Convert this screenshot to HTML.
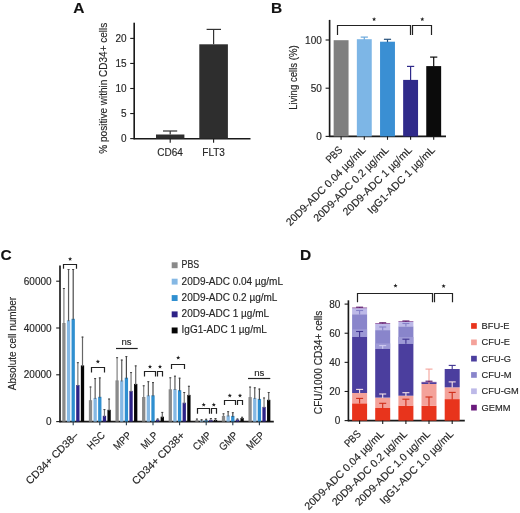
<!DOCTYPE html>
<html><head><meta charset="utf-8"><style>
html,body{margin:0;padding:0;background:#fff;}
svg{display:block;font-family:"Liberation Sans", sans-serif;will-change:transform;}
text{stroke:#262626;stroke-width:0.15px;}
</style></head><body>
<svg width="520" height="513" viewBox="0 0 520 513">
<rect width="520" height="513" fill="#fff"/>
<text x="73.20" y="12.80" font-size="15.5" text-anchor="start" fill="#111" font-weight="bold" >A</text>
<line x1="134.20" y1="22.70" x2="134.20" y2="139.30" stroke="#1a1a1a" stroke-width="1.65"/>
<line x1="133.60" y1="138.70" x2="250.50" y2="138.70" stroke="#1a1a1a" stroke-width="1.65"/>
<line x1="130.20" y1="138.60" x2="134.20" y2="138.60" stroke="#1a1a1a" stroke-width="1.1"/>
<text x="126.50" y="142.20" font-size="10" text-anchor="end" fill="#262626" font-weight="normal" >0</text>
<line x1="130.20" y1="113.55" x2="134.20" y2="113.55" stroke="#1a1a1a" stroke-width="1.1"/>
<text x="126.50" y="117.15" font-size="10" text-anchor="end" fill="#262626" font-weight="normal" >5</text>
<line x1="130.20" y1="88.50" x2="134.20" y2="88.50" stroke="#1a1a1a" stroke-width="1.1"/>
<text x="126.50" y="92.10" font-size="10" text-anchor="end" fill="#262626" font-weight="normal" >10</text>
<line x1="130.20" y1="63.45" x2="134.20" y2="63.45" stroke="#1a1a1a" stroke-width="1.1"/>
<text x="126.50" y="67.05" font-size="10" text-anchor="end" fill="#262626" font-weight="normal" >15</text>
<line x1="130.20" y1="38.40" x2="134.20" y2="38.40" stroke="#1a1a1a" stroke-width="1.1"/>
<text x="126.50" y="42.00" font-size="10" text-anchor="end" fill="#262626" font-weight="normal" >20</text>
<rect x="156.00" y="134.50" width="28.40" height="4.10" fill="#2e2e2e"/>
<rect x="199.30" y="44.30" width="28.60" height="94.30" fill="#2e2e2e"/>
<line x1="170.20" y1="131.00" x2="170.20" y2="134.50" stroke="#333" stroke-width="1.2"/>
<line x1="163.00" y1="131.00" x2="177.20" y2="131.00" stroke="#333" stroke-width="1.2"/>
<line x1="213.60" y1="29.40" x2="213.60" y2="44.30" stroke="#333" stroke-width="1.2"/>
<line x1="206.60" y1="29.40" x2="221.00" y2="29.40" stroke="#333" stroke-width="1.2"/>
<line x1="170.20" y1="138.70" x2="170.20" y2="142.70" stroke="#1a1a1a" stroke-width="1.1"/>
<line x1="213.60" y1="138.70" x2="213.60" y2="142.70" stroke="#1a1a1a" stroke-width="1.1"/>
<text x="170.00" y="155.50" font-size="10" text-anchor="middle" fill="#262626" font-weight="normal" >CD64</text>
<text x="213.60" y="155.50" font-size="10" text-anchor="middle" fill="#262626" font-weight="normal" >FLT3</text>
<text transform="translate(107.00,88.20) rotate(-90)" font-size="10" text-anchor="middle" fill="#262626" >% positive within CD34+ cells</text>
<text x="271.00" y="12.70" font-size="15.5" text-anchor="start" fill="#111" font-weight="bold" >B</text>
<line x1="329.60" y1="19.90" x2="329.60" y2="137.00" stroke="#1a1a1a" stroke-width="1.65"/>
<line x1="329.00" y1="136.40" x2="446.00" y2="136.40" stroke="#1a1a1a" stroke-width="1.65"/>
<line x1="325.60" y1="136.40" x2="329.60" y2="136.40" stroke="#1a1a1a" stroke-width="1.1"/>
<text x="321.80" y="140.00" font-size="10" text-anchor="end" fill="#262626" font-weight="normal" >0</text>
<line x1="325.60" y1="88.20" x2="329.60" y2="88.20" stroke="#1a1a1a" stroke-width="1.1"/>
<text x="321.80" y="91.80" font-size="10" text-anchor="end" fill="#262626" font-weight="normal" >50</text>
<line x1="325.60" y1="40.00" x2="329.60" y2="40.00" stroke="#1a1a1a" stroke-width="1.1"/>
<text x="321.80" y="43.60" font-size="10" text-anchor="end" fill="#262626" font-weight="normal" >100</text>
<rect x="333.65" y="40.20" width="14.90" height="96.20" fill="#7f7f7f"/>
<line x1="341.10" y1="136.40" x2="341.10" y2="139.80" stroke="#1a1a1a" stroke-width="1.1"/>
<rect x="356.85" y="39.20" width="14.90" height="97.20" fill="#7db6e6"/>
<line x1="364.30" y1="37.10" x2="364.30" y2="39.70" stroke="#6aa8dc" stroke-width="1.2"/>
<line x1="360.70" y1="37.10" x2="367.90" y2="37.10" stroke="#6aa8dc" stroke-width="1.2"/>
<line x1="364.30" y1="136.40" x2="364.30" y2="139.80" stroke="#1a1a1a" stroke-width="1.1"/>
<rect x="380.05" y="41.70" width="14.90" height="94.70" fill="#3a8fd3"/>
<line x1="387.50" y1="39.30" x2="387.50" y2="42.20" stroke="#27527c" stroke-width="1.2"/>
<line x1="383.90" y1="39.30" x2="391.10" y2="39.30" stroke="#27527c" stroke-width="1.2"/>
<line x1="387.50" y1="136.40" x2="387.50" y2="139.80" stroke="#1a1a1a" stroke-width="1.1"/>
<rect x="403.15" y="79.90" width="14.90" height="56.50" fill="#2f2a8a"/>
<line x1="410.60" y1="66.40" x2="410.60" y2="80.40" stroke="#2f2a8a" stroke-width="1.2"/>
<line x1="407.00" y1="66.40" x2="414.20" y2="66.40" stroke="#2f2a8a" stroke-width="1.2"/>
<line x1="410.60" y1="136.40" x2="410.60" y2="139.80" stroke="#1a1a1a" stroke-width="1.1"/>
<rect x="426.25" y="66.10" width="14.90" height="70.30" fill="#0b0b0b"/>
<line x1="433.70" y1="57.10" x2="433.70" y2="66.60" stroke="#0b0b0b" stroke-width="1.2"/>
<line x1="430.10" y1="57.10" x2="437.30" y2="57.10" stroke="#0b0b0b" stroke-width="1.2"/>
<line x1="433.70" y1="136.40" x2="433.70" y2="139.80" stroke="#1a1a1a" stroke-width="1.1"/>
<path d="M337.50,35.00V25.50H410.50V35.00" fill="none" stroke="#222" stroke-width="1.2"/>
<path d="M412.50,35.00V25.50H431.50V35.00" fill="none" stroke="#222" stroke-width="1.2"/>
<polygon points="374.10,17.00 374.66,18.43 376.19,18.52 375.00,19.49 375.39,20.98 374.10,20.15 372.81,20.98 373.20,19.49 372.01,18.52 373.54,18.43" fill="#222"/>
<polygon points="422.30,17.10 422.86,18.53 424.39,18.62 423.20,19.59 423.59,21.08 422.30,20.25 421.01,21.08 421.40,19.59 420.21,18.62 421.74,18.53" fill="#222"/>
<text transform="translate(296.80,77.60) rotate(-90)" font-size="10.1" text-anchor="middle" fill="#262626"  textLength="64.40" lengthAdjust="spacingAndGlyphs">Living cells (%)</text>
<text transform="translate(343.10,150.60) rotate(-45)" font-size="10.6" text-anchor="end" fill="#262626"  textLength="18.67" lengthAdjust="spacingAndGlyphs">PBS</text>
<text transform="translate(366.30,150.60) rotate(-45)" font-size="10.6" text-anchor="end" fill="#262626" >20D9-ADC 0.04 µg/mL</text>
<text transform="translate(389.50,150.60) rotate(-45)" font-size="10.6" text-anchor="end" fill="#262626" >20D9-ADC 0.2 µg/mL</text>
<text transform="translate(412.60,150.60) rotate(-45)" font-size="10.6" text-anchor="end" fill="#262626" >20D9-ADC 1 µg/mL</text>
<text transform="translate(435.70,150.60) rotate(-45)" font-size="10.6" text-anchor="end" fill="#262626" >IgG1-ADC 1 µg/mL</text>
<text x="0.60" y="260.00" font-size="15.5" text-anchor="start" fill="#111" font-weight="bold" >C</text>
<line x1="60.00" y1="265.60" x2="60.00" y2="422.20" stroke="#1a1a1a" stroke-width="1.65"/>
<line x1="59.40" y1="421.60" x2="273.80" y2="421.60" stroke="#1a1a1a" stroke-width="1.65"/>
<line x1="56.20" y1="421.60" x2="60.00" y2="421.60" stroke="#1a1a1a" stroke-width="1.1"/>
<text x="51.60" y="425.20" font-size="10" text-anchor="end" fill="#262626" font-weight="normal" >0</text>
<line x1="56.20" y1="374.80" x2="60.00" y2="374.80" stroke="#1a1a1a" stroke-width="1.1"/>
<text x="51.60" y="378.40" font-size="10" text-anchor="end" fill="#262626" font-weight="normal" >20000</text>
<line x1="56.20" y1="328.00" x2="60.00" y2="328.00" stroke="#1a1a1a" stroke-width="1.1"/>
<text x="51.60" y="331.60" font-size="10" text-anchor="end" fill="#262626" font-weight="normal" >40000</text>
<line x1="56.20" y1="281.20" x2="60.00" y2="281.20" stroke="#1a1a1a" stroke-width="1.1"/>
<text x="51.60" y="284.80" font-size="10" text-anchor="end" fill="#262626" font-weight="normal" >60000</text>
<rect x="62.25" y="323.00" width="3.30" height="98.60" fill="#8a8a8a"/>
<line x1="63.90" y1="288.00" x2="63.90" y2="324.00" stroke="#808080" stroke-width="1.2"/>
<line x1="62.90" y1="288.50" x2="64.90" y2="288.50" stroke="#444" stroke-width="1.0"/>
<rect x="66.90" y="320.20" width="3.30" height="101.40" fill="#85b8e4"/>
<line x1="68.55" y1="269.00" x2="68.55" y2="321.20" stroke="#5c5c5c" stroke-width="1.2"/>
<line x1="67.55" y1="269.50" x2="69.55" y2="269.50" stroke="#444" stroke-width="1.0"/>
<rect x="71.55" y="318.80" width="3.30" height="102.80" fill="#2f8fd0"/>
<line x1="73.20" y1="269.00" x2="73.20" y2="319.80" stroke="#4a4a4a" stroke-width="1.2"/>
<line x1="72.20" y1="269.50" x2="74.20" y2="269.50" stroke="#444" stroke-width="1.0"/>
<rect x="76.20" y="385.00" width="3.30" height="36.60" fill="#2d2287"/>
<line x1="77.85" y1="362.20" x2="77.85" y2="386.00" stroke="#777777" stroke-width="1.2"/>
<line x1="76.85" y1="362.70" x2="78.85" y2="362.70" stroke="#444" stroke-width="1.0"/>
<rect x="80.85" y="365.40" width="3.30" height="56.20" fill="#050505"/>
<line x1="82.50" y1="336.60" x2="82.50" y2="366.40" stroke="#666666" stroke-width="1.2"/>
<line x1="81.50" y1="337.10" x2="83.50" y2="337.10" stroke="#444" stroke-width="1.0"/>
<line x1="73.20" y1="421.60" x2="73.20" y2="425.20" stroke="#283d4d" stroke-width="1.1"/>
<rect x="88.85" y="400.20" width="3.30" height="21.40" fill="#8a8a8a"/>
<line x1="90.50" y1="386.50" x2="90.50" y2="401.20" stroke="#808080" stroke-width="1.2"/>
<line x1="89.50" y1="387.00" x2="91.50" y2="387.00" stroke="#444" stroke-width="1.0"/>
<rect x="93.50" y="397.90" width="3.30" height="23.70" fill="#85b8e4"/>
<line x1="95.15" y1="378.10" x2="95.15" y2="398.90" stroke="#5c5c5c" stroke-width="1.2"/>
<line x1="94.15" y1="378.60" x2="96.15" y2="378.60" stroke="#444" stroke-width="1.0"/>
<rect x="98.15" y="396.80" width="3.30" height="24.80" fill="#2f8fd0"/>
<line x1="99.80" y1="377.40" x2="99.80" y2="397.80" stroke="#4a4a4a" stroke-width="1.2"/>
<line x1="98.80" y1="377.90" x2="100.80" y2="377.90" stroke="#444" stroke-width="1.0"/>
<rect x="102.80" y="415.80" width="3.30" height="5.80" fill="#2d2287"/>
<line x1="104.45" y1="409.10" x2="104.45" y2="416.80" stroke="#777777" stroke-width="1.2"/>
<line x1="103.45" y1="409.60" x2="105.45" y2="409.60" stroke="#444" stroke-width="1.0"/>
<rect x="107.45" y="409.80" width="3.30" height="11.80" fill="#050505"/>
<line x1="109.10" y1="398.60" x2="109.10" y2="410.80" stroke="#666666" stroke-width="1.2"/>
<line x1="108.10" y1="399.10" x2="110.10" y2="399.10" stroke="#444" stroke-width="1.0"/>
<line x1="99.80" y1="421.60" x2="99.80" y2="425.20" stroke="#283d4d" stroke-width="1.1"/>
<rect x="115.45" y="380.40" width="3.30" height="41.20" fill="#8a8a8a"/>
<line x1="117.10" y1="357.20" x2="117.10" y2="381.40" stroke="#808080" stroke-width="1.2"/>
<line x1="116.10" y1="357.70" x2="118.10" y2="357.70" stroke="#444" stroke-width="1.0"/>
<rect x="120.10" y="380.40" width="3.30" height="41.20" fill="#85b8e4"/>
<line x1="121.75" y1="359.60" x2="121.75" y2="381.40" stroke="#5c5c5c" stroke-width="1.2"/>
<line x1="120.75" y1="360.10" x2="122.75" y2="360.10" stroke="#444" stroke-width="1.0"/>
<rect x="124.75" y="377.70" width="3.30" height="43.90" fill="#2f8fd0"/>
<line x1="126.40" y1="356.10" x2="126.40" y2="378.70" stroke="#4a4a4a" stroke-width="1.2"/>
<line x1="125.40" y1="356.60" x2="127.40" y2="356.60" stroke="#444" stroke-width="1.0"/>
<rect x="129.40" y="390.90" width="3.30" height="30.70" fill="#2d2287"/>
<line x1="131.05" y1="372.10" x2="131.05" y2="391.90" stroke="#777777" stroke-width="1.2"/>
<line x1="130.05" y1="372.60" x2="132.05" y2="372.60" stroke="#444" stroke-width="1.0"/>
<rect x="134.05" y="383.90" width="3.30" height="37.70" fill="#050505"/>
<line x1="135.70" y1="365.40" x2="135.70" y2="384.90" stroke="#666666" stroke-width="1.2"/>
<line x1="134.70" y1="365.90" x2="136.70" y2="365.90" stroke="#444" stroke-width="1.0"/>
<line x1="126.40" y1="421.60" x2="126.40" y2="425.20" stroke="#283d4d" stroke-width="1.1"/>
<rect x="142.05" y="397.00" width="3.30" height="24.60" fill="#8a8a8a"/>
<line x1="143.70" y1="385.30" x2="143.70" y2="398.00" stroke="#808080" stroke-width="1.2"/>
<line x1="142.70" y1="385.80" x2="144.70" y2="385.80" stroke="#444" stroke-width="1.0"/>
<rect x="146.70" y="395.30" width="3.30" height="26.30" fill="#85b8e4"/>
<line x1="148.35" y1="381.20" x2="148.35" y2="396.30" stroke="#5c5c5c" stroke-width="1.2"/>
<line x1="147.35" y1="381.70" x2="149.35" y2="381.70" stroke="#444" stroke-width="1.0"/>
<rect x="151.35" y="395.30" width="3.30" height="26.30" fill="#2f8fd0"/>
<line x1="153.00" y1="382.10" x2="153.00" y2="396.30" stroke="#4a4a4a" stroke-width="1.2"/>
<line x1="152.00" y1="382.60" x2="154.00" y2="382.60" stroke="#444" stroke-width="1.0"/>
<rect x="156.00" y="419.60" width="3.30" height="2.00" fill="#2d2287"/>
<line x1="157.65" y1="418.50" x2="157.65" y2="420.60" stroke="#777777" stroke-width="1.2"/>
<line x1="156.65" y1="419.00" x2="158.65" y2="419.00" stroke="#444" stroke-width="1.0"/>
<rect x="160.65" y="416.70" width="3.30" height="4.90" fill="#050505"/>
<line x1="162.30" y1="411.90" x2="162.30" y2="417.70" stroke="#666666" stroke-width="1.2"/>
<line x1="161.30" y1="412.40" x2="163.30" y2="412.40" stroke="#444" stroke-width="1.0"/>
<line x1="153.00" y1="421.60" x2="153.00" y2="425.20" stroke="#283d4d" stroke-width="1.1"/>
<rect x="168.65" y="389.30" width="3.30" height="32.30" fill="#8a8a8a"/>
<line x1="170.30" y1="377.30" x2="170.30" y2="390.30" stroke="#808080" stroke-width="1.2"/>
<line x1="169.30" y1="377.80" x2="171.30" y2="377.80" stroke="#444" stroke-width="1.0"/>
<rect x="173.30" y="389.00" width="3.30" height="32.60" fill="#85b8e4"/>
<line x1="174.95" y1="375.70" x2="174.95" y2="390.00" stroke="#5c5c5c" stroke-width="1.2"/>
<line x1="173.95" y1="376.20" x2="175.95" y2="376.20" stroke="#444" stroke-width="1.0"/>
<rect x="177.95" y="390.20" width="3.30" height="31.40" fill="#2f8fd0"/>
<line x1="179.60" y1="377.70" x2="179.60" y2="391.20" stroke="#4a4a4a" stroke-width="1.2"/>
<line x1="178.60" y1="378.20" x2="180.60" y2="378.20" stroke="#444" stroke-width="1.0"/>
<rect x="182.60" y="402.70" width="3.30" height="18.90" fill="#2d2287"/>
<line x1="184.25" y1="392.00" x2="184.25" y2="403.70" stroke="#777777" stroke-width="1.2"/>
<line x1="183.25" y1="392.50" x2="185.25" y2="392.50" stroke="#444" stroke-width="1.0"/>
<rect x="187.25" y="394.90" width="3.30" height="26.70" fill="#050505"/>
<line x1="188.90" y1="385.80" x2="188.90" y2="395.90" stroke="#666666" stroke-width="1.2"/>
<line x1="187.90" y1="386.30" x2="189.90" y2="386.30" stroke="#444" stroke-width="1.0"/>
<line x1="179.60" y1="421.60" x2="179.60" y2="425.20" stroke="#283d4d" stroke-width="1.1"/>
<rect x="195.25" y="420.20" width="3.30" height="1.40" fill="#8a8a8a"/>
<line x1="196.90" y1="418.60" x2="196.90" y2="421.20" stroke="#808080" stroke-width="1.2"/>
<line x1="195.90" y1="419.10" x2="197.90" y2="419.10" stroke="#444" stroke-width="1.0"/>
<rect x="199.90" y="420.40" width="3.30" height="1.20" fill="#85b8e4"/>
<line x1="201.55" y1="419.20" x2="201.55" y2="421.40" stroke="#5c5c5c" stroke-width="1.2"/>
<line x1="200.55" y1="419.70" x2="202.55" y2="419.70" stroke="#444" stroke-width="1.0"/>
<rect x="204.55" y="420.20" width="3.30" height="1.40" fill="#2f8fd0"/>
<line x1="206.20" y1="418.80" x2="206.20" y2="421.20" stroke="#4a4a4a" stroke-width="1.2"/>
<line x1="205.20" y1="419.30" x2="207.20" y2="419.30" stroke="#444" stroke-width="1.0"/>
<rect x="209.20" y="419.80" width="3.30" height="1.80" fill="#2d2287"/>
<line x1="210.85" y1="418.00" x2="210.85" y2="420.80" stroke="#777777" stroke-width="1.2"/>
<line x1="209.85" y1="418.50" x2="211.85" y2="418.50" stroke="#444" stroke-width="1.0"/>
<rect x="213.85" y="419.80" width="3.30" height="1.80" fill="#050505"/>
<line x1="215.50" y1="418.00" x2="215.50" y2="420.80" stroke="#666666" stroke-width="1.2"/>
<line x1="214.50" y1="418.50" x2="216.50" y2="418.50" stroke="#444" stroke-width="1.0"/>
<line x1="206.20" y1="421.60" x2="206.20" y2="425.20" stroke="#283d4d" stroke-width="1.1"/>
<rect x="221.85" y="415.90" width="3.30" height="5.70" fill="#8a8a8a"/>
<line x1="223.50" y1="413.30" x2="223.50" y2="416.90" stroke="#808080" stroke-width="1.2"/>
<line x1="222.50" y1="413.80" x2="224.50" y2="413.80" stroke="#444" stroke-width="1.0"/>
<rect x="226.50" y="415.40" width="3.30" height="6.20" fill="#85b8e4"/>
<line x1="228.15" y1="411.20" x2="228.15" y2="416.40" stroke="#5c5c5c" stroke-width="1.2"/>
<line x1="227.15" y1="411.70" x2="229.15" y2="411.70" stroke="#444" stroke-width="1.0"/>
<rect x="231.15" y="415.90" width="3.30" height="5.70" fill="#2f8fd0"/>
<line x1="232.80" y1="412.20" x2="232.80" y2="416.90" stroke="#4a4a4a" stroke-width="1.2"/>
<line x1="231.80" y1="412.70" x2="233.80" y2="412.70" stroke="#444" stroke-width="1.0"/>
<rect x="235.80" y="419.50" width="3.30" height="2.10" fill="#2d2287"/>
<line x1="237.45" y1="418.50" x2="237.45" y2="420.50" stroke="#777777" stroke-width="1.2"/>
<line x1="236.45" y1="419.00" x2="238.45" y2="419.00" stroke="#444" stroke-width="1.0"/>
<rect x="240.45" y="418.00" width="3.30" height="3.60" fill="#050505"/>
<line x1="242.10" y1="416.80" x2="242.10" y2="419.00" stroke="#666666" stroke-width="1.2"/>
<line x1="241.10" y1="417.30" x2="243.10" y2="417.30" stroke="#444" stroke-width="1.0"/>
<line x1="232.80" y1="421.60" x2="232.80" y2="425.20" stroke="#283d4d" stroke-width="1.1"/>
<rect x="248.45" y="397.10" width="3.30" height="24.50" fill="#8a8a8a"/>
<line x1="250.10" y1="386.60" x2="250.10" y2="398.10" stroke="#808080" stroke-width="1.2"/>
<line x1="249.10" y1="387.10" x2="251.10" y2="387.10" stroke="#444" stroke-width="1.0"/>
<rect x="253.10" y="397.90" width="3.30" height="23.70" fill="#85b8e4"/>
<line x1="254.75" y1="387.30" x2="254.75" y2="398.90" stroke="#5c5c5c" stroke-width="1.2"/>
<line x1="253.75" y1="387.80" x2="255.75" y2="387.80" stroke="#444" stroke-width="1.0"/>
<rect x="257.75" y="398.90" width="3.30" height="22.70" fill="#2f8fd0"/>
<line x1="259.40" y1="388.60" x2="259.40" y2="399.90" stroke="#4a4a4a" stroke-width="1.2"/>
<line x1="258.40" y1="389.10" x2="260.40" y2="389.10" stroke="#444" stroke-width="1.0"/>
<rect x="262.40" y="406.90" width="3.30" height="14.70" fill="#2d2287"/>
<line x1="264.05" y1="397.50" x2="264.05" y2="407.90" stroke="#777777" stroke-width="1.2"/>
<line x1="263.05" y1="398.00" x2="265.05" y2="398.00" stroke="#444" stroke-width="1.0"/>
<rect x="267.05" y="399.80" width="3.30" height="21.80" fill="#050505"/>
<line x1="268.70" y1="392.00" x2="268.70" y2="400.80" stroke="#666666" stroke-width="1.2"/>
<line x1="267.70" y1="392.50" x2="269.70" y2="392.50" stroke="#444" stroke-width="1.0"/>
<line x1="259.40" y1="421.60" x2="259.40" y2="425.20" stroke="#283d4d" stroke-width="1.1"/>
<path d="M63.50,268.80V264.50H76.50V268.80" fill="none" stroke="#222" stroke-width="1.2"/>
<polygon points="70.10,256.80 70.66,258.23 72.19,258.32 71.00,259.29 71.39,260.78 70.10,259.95 68.81,260.78 69.20,259.29 68.01,258.32 69.54,258.23" fill="#222"/>
<path d="M91.50,372.60V367.50H104.50V372.60" fill="none" stroke="#222" stroke-width="1.2"/>
<polygon points="97.90,359.40 98.46,360.83 99.99,360.92 98.80,361.89 99.19,363.38 97.90,362.55 96.61,363.38 97.00,361.89 95.81,360.92 97.34,360.83" fill="#222"/>
<line x1="116.0" y1="348.5" x2="137.7" y2="348.5" stroke="#222" stroke-width="1.2"/>
<text x="126.50" y="345.40" font-size="9.6" text-anchor="middle" fill="#262626" font-weight="normal" >ns</text>
<path d="M144.50,376.60V371.50H155.50V376.60" fill="none" stroke="#222" stroke-width="1.2"/>
<polygon points="150.00,364.60 150.56,366.03 152.09,366.12 150.90,367.09 151.29,368.58 150.00,367.75 148.71,368.58 149.10,367.09 147.91,366.12 149.44,366.03" fill="#222"/>
<path d="M157.50,376.60V371.50H162.50V376.60" fill="none" stroke="#222" stroke-width="1.2"/>
<polygon points="160.00,364.60 160.56,366.03 162.09,366.12 160.90,367.09 161.29,368.58 160.00,367.75 158.71,368.58 159.10,367.09 157.91,366.12 159.44,366.03" fill="#222"/>
<path d="M171.50,369.00V364.50H184.50V369.00" fill="none" stroke="#222" stroke-width="1.2"/>
<polygon points="178.20,355.60 178.76,357.03 180.29,357.12 179.10,358.09 179.49,359.58 178.20,358.75 176.91,359.58 177.30,358.09 176.11,357.12 177.64,357.03" fill="#222"/>
<path d="M197.50,413.80V408.50H209.50V413.80" fill="none" stroke="#222" stroke-width="1.2"/>
<polygon points="203.70,402.60 204.26,404.03 205.79,404.12 204.60,405.09 204.99,406.58 203.70,405.75 202.41,406.58 202.80,405.09 201.61,404.12 203.14,404.03" fill="#222"/>
<path d="M211.50,413.80V408.50H216.50V413.80" fill="none" stroke="#222" stroke-width="1.2"/>
<polygon points="213.80,402.60 214.36,404.03 215.89,404.12 214.70,405.09 215.09,406.58 213.80,405.75 212.51,406.58 212.90,405.09 211.71,404.12 213.24,404.03" fill="#222"/>
<path d="M224.50,405.00V400.50H235.50V405.00" fill="none" stroke="#222" stroke-width="1.2"/>
<polygon points="229.80,393.40 230.36,394.83 231.89,394.92 230.70,395.89 231.09,397.38 229.80,396.55 228.51,397.38 228.90,395.89 227.71,394.92 229.24,394.83" fill="#222"/>
<path d="M237.50,405.00V400.50H242.50V405.00" fill="none" stroke="#222" stroke-width="1.2"/>
<polygon points="240.00,393.40 240.56,394.83 242.09,394.92 240.90,395.89 241.29,397.38 240.00,396.55 238.71,397.38 239.10,395.89 237.91,394.92 239.44,394.83" fill="#222"/>
<line x1="248.0" y1="378.5" x2="270.3" y2="378.5" stroke="#222" stroke-width="1.2"/>
<text x="259.30" y="375.70" font-size="9.6" text-anchor="middle" fill="#262626" font-weight="normal" >ns</text>
<text transform="translate(15.80,343.60) rotate(-90)" font-size="10" text-anchor="middle" fill="#262626" >Absolute cell number</text>
<text transform="translate(79.00,436.00) rotate(-45)" font-size="10.6" text-anchor="end" fill="#262626" >CD34+ CD38–</text>
<text transform="translate(105.60,436.00) rotate(-45)" font-size="10.6" text-anchor="end" fill="#262626"  textLength="20.14" lengthAdjust="spacingAndGlyphs">HSC</text>
<text transform="translate(132.20,436.00) rotate(-45)" font-size="10.6" text-anchor="end" fill="#262626"  textLength="20.67" lengthAdjust="spacingAndGlyphs">MPP</text>
<text transform="translate(158.80,436.00) rotate(-45)" font-size="10.6" text-anchor="end" fill="#262626"  textLength="19.62" lengthAdjust="spacingAndGlyphs">MLP</text>
<text transform="translate(185.40,436.00) rotate(-45)" font-size="10.6" text-anchor="end" fill="#262626" >CD34+ CD38+</text>
<text transform="translate(212.00,436.00) rotate(-45)" font-size="10.6" text-anchor="end" fill="#262626"  textLength="21.20" lengthAdjust="spacingAndGlyphs">CMP</text>
<text transform="translate(238.60,436.00) rotate(-45)" font-size="10.6" text-anchor="end" fill="#262626"  textLength="21.73" lengthAdjust="spacingAndGlyphs">GMP</text>
<text transform="translate(265.20,436.00) rotate(-45)" font-size="10.6" text-anchor="end" fill="#262626"  textLength="20.67" lengthAdjust="spacingAndGlyphs">MEP</text>
<rect x="171.70" y="262.30" width="5.90" height="5.90" fill="#8a8a8a"/>
<text x="181.60" y="268.20" font-size="10" text-anchor="start" fill="#262626" font-weight="normal"  textLength="17.60" lengthAdjust="spacingAndGlyphs">PBS</text>
<rect x="171.70" y="278.70" width="5.90" height="5.90" fill="#85b8e4"/>
<text x="181.60" y="284.60" font-size="10" text-anchor="start" fill="#262626" font-weight="normal" >20D9-ADC 0.04 µg/mL</text>
<rect x="171.70" y="295.10" width="5.90" height="5.90" fill="#2f8fd0"/>
<text x="181.60" y="301.00" font-size="10" text-anchor="start" fill="#262626" font-weight="normal" >20D9-ADC 0.2 µg/mL</text>
<rect x="171.70" y="311.40" width="5.90" height="5.90" fill="#2d2287"/>
<text x="181.60" y="317.30" font-size="10" text-anchor="start" fill="#262626" font-weight="normal" >20D9-ADC 1 µg/mL</text>
<rect x="171.70" y="327.50" width="5.90" height="5.90" fill="#050505"/>
<text x="181.60" y="333.40" font-size="10" text-anchor="start" fill="#262626" font-weight="normal" >IgG1-ADC 1 µg/mL</text>
<text x="300.00" y="260.30" font-size="15.5" text-anchor="start" fill="#111" font-weight="bold" >D</text>
<line x1="348.40" y1="300.30" x2="348.40" y2="421.20" stroke="#1a1a1a" stroke-width="1.65"/>
<line x1="347.80" y1="420.60" x2="464.80" y2="420.60" stroke="#1a1a1a" stroke-width="1.65"/>
<line x1="344.60" y1="420.60" x2="348.40" y2="420.60" stroke="#1a1a1a" stroke-width="1.1"/>
<text x="340.40" y="424.20" font-size="10" text-anchor="end" fill="#262626" font-weight="normal" >0</text>
<line x1="344.60" y1="391.48" x2="348.40" y2="391.48" stroke="#1a1a1a" stroke-width="1.1"/>
<text x="340.40" y="395.08" font-size="10" text-anchor="end" fill="#262626" font-weight="normal" >20</text>
<line x1="344.60" y1="362.35" x2="348.40" y2="362.35" stroke="#1a1a1a" stroke-width="1.1"/>
<text x="340.40" y="365.95" font-size="10" text-anchor="end" fill="#262626" font-weight="normal" >40</text>
<line x1="344.60" y1="333.23" x2="348.40" y2="333.23" stroke="#1a1a1a" stroke-width="1.1"/>
<text x="340.40" y="336.83" font-size="10" text-anchor="end" fill="#262626" font-weight="normal" >60</text>
<line x1="344.60" y1="304.10" x2="348.40" y2="304.10" stroke="#1a1a1a" stroke-width="1.1"/>
<text x="340.40" y="307.70" font-size="10" text-anchor="end" fill="#262626" font-weight="normal" >80</text>
<rect x="352.10" y="403.30" width="15.00" height="17.30" fill="#e8341c"/>
<rect x="352.10" y="393.00" width="15.00" height="10.30" fill="#f4a29a"/>
<rect x="352.10" y="337.00" width="15.00" height="56.00" fill="#4b3e9e"/>
<rect x="352.10" y="314.20" width="15.00" height="22.80" fill="#8985cb"/>
<rect x="352.10" y="308.20" width="15.00" height="6.00" fill="#bdb9e8"/>
<rect x="352.10" y="307.60" width="15.00" height="0.60" fill="#6a1b7c"/>
<line x1="359.60" y1="398.40" x2="359.60" y2="403.60" stroke="#cf2c17" stroke-width="1.1"/>
<line x1="356.10" y1="398.40" x2="363.10" y2="398.40" stroke="#cf2c17" stroke-width="1.1"/>
<line x1="359.60" y1="389.40" x2="359.60" y2="393.30" stroke="#f6e2e6" stroke-width="1.1"/>
<line x1="356.10" y1="389.40" x2="363.10" y2="389.40" stroke="#f6e2e6" stroke-width="1.1"/>
<rect x="352.10" y="329.30" width="15.00" height="7.70" fill="#9d99d6"/>
<line x1="359.60" y1="331.50" x2="359.60" y2="337.30" stroke="#3f3390" stroke-width="1.1"/>
<line x1="356.10" y1="331.50" x2="363.10" y2="331.50" stroke="#3f3390" stroke-width="1.1"/>
<line x1="359.60" y1="310.50" x2="359.60" y2="314.50" stroke="#8682c9" stroke-width="1.1"/>
<line x1="356.10" y1="310.50" x2="363.10" y2="310.50" stroke="#8682c9" stroke-width="1.1"/>
<line x1="359.60" y1="307.20" x2="359.60" y2="307.90" stroke="#5a1468" stroke-width="1.1"/>
<line x1="356.10" y1="307.20" x2="363.10" y2="307.20" stroke="#5a1468" stroke-width="1.1"/>
<line x1="359.60" y1="420.60" x2="359.60" y2="424.10" stroke="#1a1a1a" stroke-width="1.1"/>
<rect x="375.20" y="408.00" width="15.00" height="12.60" fill="#e8341c"/>
<rect x="375.20" y="397.60" width="15.00" height="10.40" fill="#f4a29a"/>
<rect x="375.20" y="348.50" width="15.00" height="49.10" fill="#4b3e9e"/>
<rect x="375.20" y="330.10" width="15.00" height="18.40" fill="#8985cb"/>
<rect x="375.20" y="323.80" width="15.00" height="6.30" fill="#bdb9e8"/>
<rect x="375.20" y="323.20" width="15.00" height="0.60" fill="#6a1b7c"/>
<line x1="382.70" y1="403.30" x2="382.70" y2="408.30" stroke="#cf2c17" stroke-width="1.1"/>
<line x1="379.20" y1="403.30" x2="386.20" y2="403.30" stroke="#cf2c17" stroke-width="1.1"/>
<line x1="382.70" y1="394.00" x2="382.70" y2="397.90" stroke="#f6e2e6" stroke-width="1.1"/>
<line x1="379.20" y1="394.00" x2="386.20" y2="394.00" stroke="#f6e2e6" stroke-width="1.1"/>
<rect x="375.20" y="343.40" width="15.00" height="5.10" fill="#9d99d6"/>
<line x1="382.70" y1="345.60" x2="382.70" y2="348.80" stroke="#cfcbf0" stroke-width="1.1"/>
<line x1="379.20" y1="345.60" x2="386.20" y2="345.60" stroke="#cfcbf0" stroke-width="1.1"/>
<line x1="382.70" y1="327.00" x2="382.70" y2="330.40" stroke="#8682c9" stroke-width="1.1"/>
<line x1="379.20" y1="327.00" x2="386.20" y2="327.00" stroke="#8682c9" stroke-width="1.1"/>
<line x1="382.70" y1="322.80" x2="382.70" y2="323.50" stroke="#5a1468" stroke-width="1.1"/>
<line x1="379.20" y1="322.80" x2="386.20" y2="322.80" stroke="#5a1468" stroke-width="1.1"/>
<line x1="382.70" y1="420.60" x2="382.70" y2="424.10" stroke="#1a1a1a" stroke-width="1.1"/>
<rect x="398.40" y="405.60" width="15.00" height="15.00" fill="#e8341c"/>
<rect x="398.40" y="395.70" width="15.00" height="9.90" fill="#f4a29a"/>
<rect x="398.40" y="343.50" width="15.00" height="52.20" fill="#4b3e9e"/>
<rect x="398.40" y="326.30" width="15.00" height="17.20" fill="#8985cb"/>
<rect x="398.40" y="322.00" width="15.00" height="4.30" fill="#bdb9e8"/>
<rect x="398.40" y="321.40" width="15.00" height="0.60" fill="#6a1b7c"/>
<line x1="405.90" y1="399.20" x2="405.90" y2="405.90" stroke="#cf2c17" stroke-width="1.1"/>
<line x1="402.40" y1="399.20" x2="409.40" y2="399.20" stroke="#cf2c17" stroke-width="1.1"/>
<line x1="405.90" y1="392.70" x2="405.90" y2="396.00" stroke="#f6e2e6" stroke-width="1.1"/>
<line x1="402.40" y1="392.70" x2="409.40" y2="392.70" stroke="#f6e2e6" stroke-width="1.1"/>
<rect x="398.40" y="337.00" width="15.00" height="6.50" fill="#9d99d6"/>
<line x1="405.90" y1="339.20" x2="405.90" y2="343.80" stroke="#3f3390" stroke-width="1.1"/>
<line x1="402.40" y1="339.20" x2="409.40" y2="339.20" stroke="#3f3390" stroke-width="1.1"/>
<line x1="405.90" y1="323.50" x2="405.90" y2="326.60" stroke="#8682c9" stroke-width="1.1"/>
<line x1="402.40" y1="323.50" x2="409.40" y2="323.50" stroke="#8682c9" stroke-width="1.1"/>
<line x1="405.90" y1="321.00" x2="405.90" y2="321.70" stroke="#5a1468" stroke-width="1.1"/>
<line x1="402.40" y1="321.00" x2="409.40" y2="321.00" stroke="#5a1468" stroke-width="1.1"/>
<line x1="405.90" y1="420.60" x2="405.90" y2="424.10" stroke="#1a1a1a" stroke-width="1.1"/>
<rect x="421.50" y="405.80" width="15.00" height="14.80" fill="#e8341c"/>
<rect x="421.50" y="384.00" width="15.00" height="21.80" fill="#f4a29a"/>
<rect x="421.50" y="382.30" width="15.00" height="1.70" fill="#4b3e9e"/>
<rect x="421.50" y="381.90" width="15.00" height="0.40" fill="#6a1b7c"/>
<line x1="429.00" y1="397.00" x2="429.00" y2="406.10" stroke="#cf2c17" stroke-width="1.1"/>
<line x1="425.50" y1="397.00" x2="432.50" y2="397.00" stroke="#cf2c17" stroke-width="1.1"/>
<line x1="429.00" y1="369.10" x2="429.00" y2="384.30" stroke="#f4a29a" stroke-width="1.1"/>
<line x1="425.50" y1="369.10" x2="432.50" y2="369.10" stroke="#f4a29a" stroke-width="1.1"/>
<line x1="429.00" y1="381.20" x2="429.00" y2="382.20" stroke="#5a1468" stroke-width="1.1"/>
<line x1="425.50" y1="381.20" x2="432.50" y2="381.20" stroke="#5a1468" stroke-width="1.1"/>
<line x1="429.00" y1="420.60" x2="429.00" y2="424.10" stroke="#1a1a1a" stroke-width="1.1"/>
<rect x="444.70" y="399.10" width="15.00" height="21.50" fill="#e8341c"/>
<rect x="444.70" y="387.30" width="15.00" height="11.80" fill="#f4a29a"/>
<rect x="444.70" y="369.00" width="15.00" height="18.30" fill="#4b3e9e"/>
<line x1="452.20" y1="392.40" x2="452.20" y2="399.40" stroke="#cf2c17" stroke-width="1.1"/>
<line x1="448.70" y1="392.40" x2="455.70" y2="392.40" stroke="#cf2c17" stroke-width="1.1"/>
<line x1="452.20" y1="381.90" x2="452.20" y2="387.60" stroke="#f6e2e6" stroke-width="1.1"/>
<line x1="448.70" y1="381.90" x2="455.70" y2="381.90" stroke="#f6e2e6" stroke-width="1.1"/>
<line x1="452.20" y1="365.40" x2="452.20" y2="369.30" stroke="#3f3390" stroke-width="1.1"/>
<line x1="448.70" y1="365.40" x2="455.70" y2="365.40" stroke="#3f3390" stroke-width="1.1"/>
<line x1="452.20" y1="420.60" x2="452.20" y2="424.10" stroke="#1a1a1a" stroke-width="1.1"/>
<path d="M357.50,302.30V293.50H432.50V302.30" fill="none" stroke="#222" stroke-width="1.2"/>
<path d="M434.50,302.30V293.50H452.50V302.30" fill="none" stroke="#222" stroke-width="1.2"/>
<polygon points="395.50,283.60 396.06,285.03 397.59,285.12 396.40,286.09 396.79,287.58 395.50,286.75 394.21,287.58 394.60,286.09 393.41,285.12 394.94,285.03" fill="#222"/>
<polygon points="443.60,283.90 444.16,285.33 445.69,285.42 444.50,286.39 444.89,287.88 443.60,287.05 442.31,287.88 442.70,286.39 441.51,285.42 443.04,285.33" fill="#222"/>
<text transform="translate(321.90,362.40) rotate(-90)" font-size="10.1" text-anchor="middle" fill="#262626" >CFU/1000 CD34+ cells</text>
<text transform="translate(361.60,434.60) rotate(-45)" font-size="10.6" text-anchor="end" fill="#262626"  textLength="18.67" lengthAdjust="spacingAndGlyphs">PBS</text>
<text transform="translate(384.70,434.60) rotate(-45)" font-size="10.6" text-anchor="end" fill="#262626" >20D9-ADC 0.04 µg/mL</text>
<text transform="translate(407.90,434.60) rotate(-45)" font-size="10.6" text-anchor="end" fill="#262626" >20D9-ADC 0.2 µg/mL</text>
<text transform="translate(431.00,434.60) rotate(-45)" font-size="10.6" text-anchor="end" fill="#262626" >20D9-ADC 1.0 µg/mL</text>
<text transform="translate(454.20,434.60) rotate(-45)" font-size="10.6" text-anchor="end" fill="#262626" >IgG1-ADC 1.0 µg/mL</text>
<rect x="471.10" y="323.10" width="5.70" height="5.70" fill="#e8341c"/>
<text x="481.60" y="328.90" font-size="9.3" text-anchor="start" fill="#262626" font-weight="normal" >BFU-E</text>
<rect x="471.10" y="339.50" width="5.70" height="5.70" fill="#f4a29a"/>
<text x="481.60" y="345.30" font-size="9.3" text-anchor="start" fill="#262626" font-weight="normal" >CFU-E</text>
<rect x="471.10" y="355.80" width="5.70" height="5.70" fill="#4b3e9e"/>
<text x="481.60" y="361.60" font-size="9.3" text-anchor="start" fill="#262626" font-weight="normal" >CFU-G</text>
<rect x="471.10" y="372.10" width="5.70" height="5.70" fill="#8985cb"/>
<text x="481.60" y="377.90" font-size="9.3" text-anchor="start" fill="#262626" font-weight="normal" >CFU-M</text>
<rect x="471.10" y="388.40" width="5.70" height="5.70" fill="#bdb9e8"/>
<text x="481.60" y="394.20" font-size="9.3" text-anchor="start" fill="#262626" font-weight="normal" >CFU-GM</text>
<rect x="471.10" y="404.80" width="5.70" height="5.70" fill="#6a1b7c"/>
<text x="481.60" y="410.60" font-size="9.3" text-anchor="start" fill="#262626" font-weight="normal" >GEMM</text>
</svg>
</body></html>
